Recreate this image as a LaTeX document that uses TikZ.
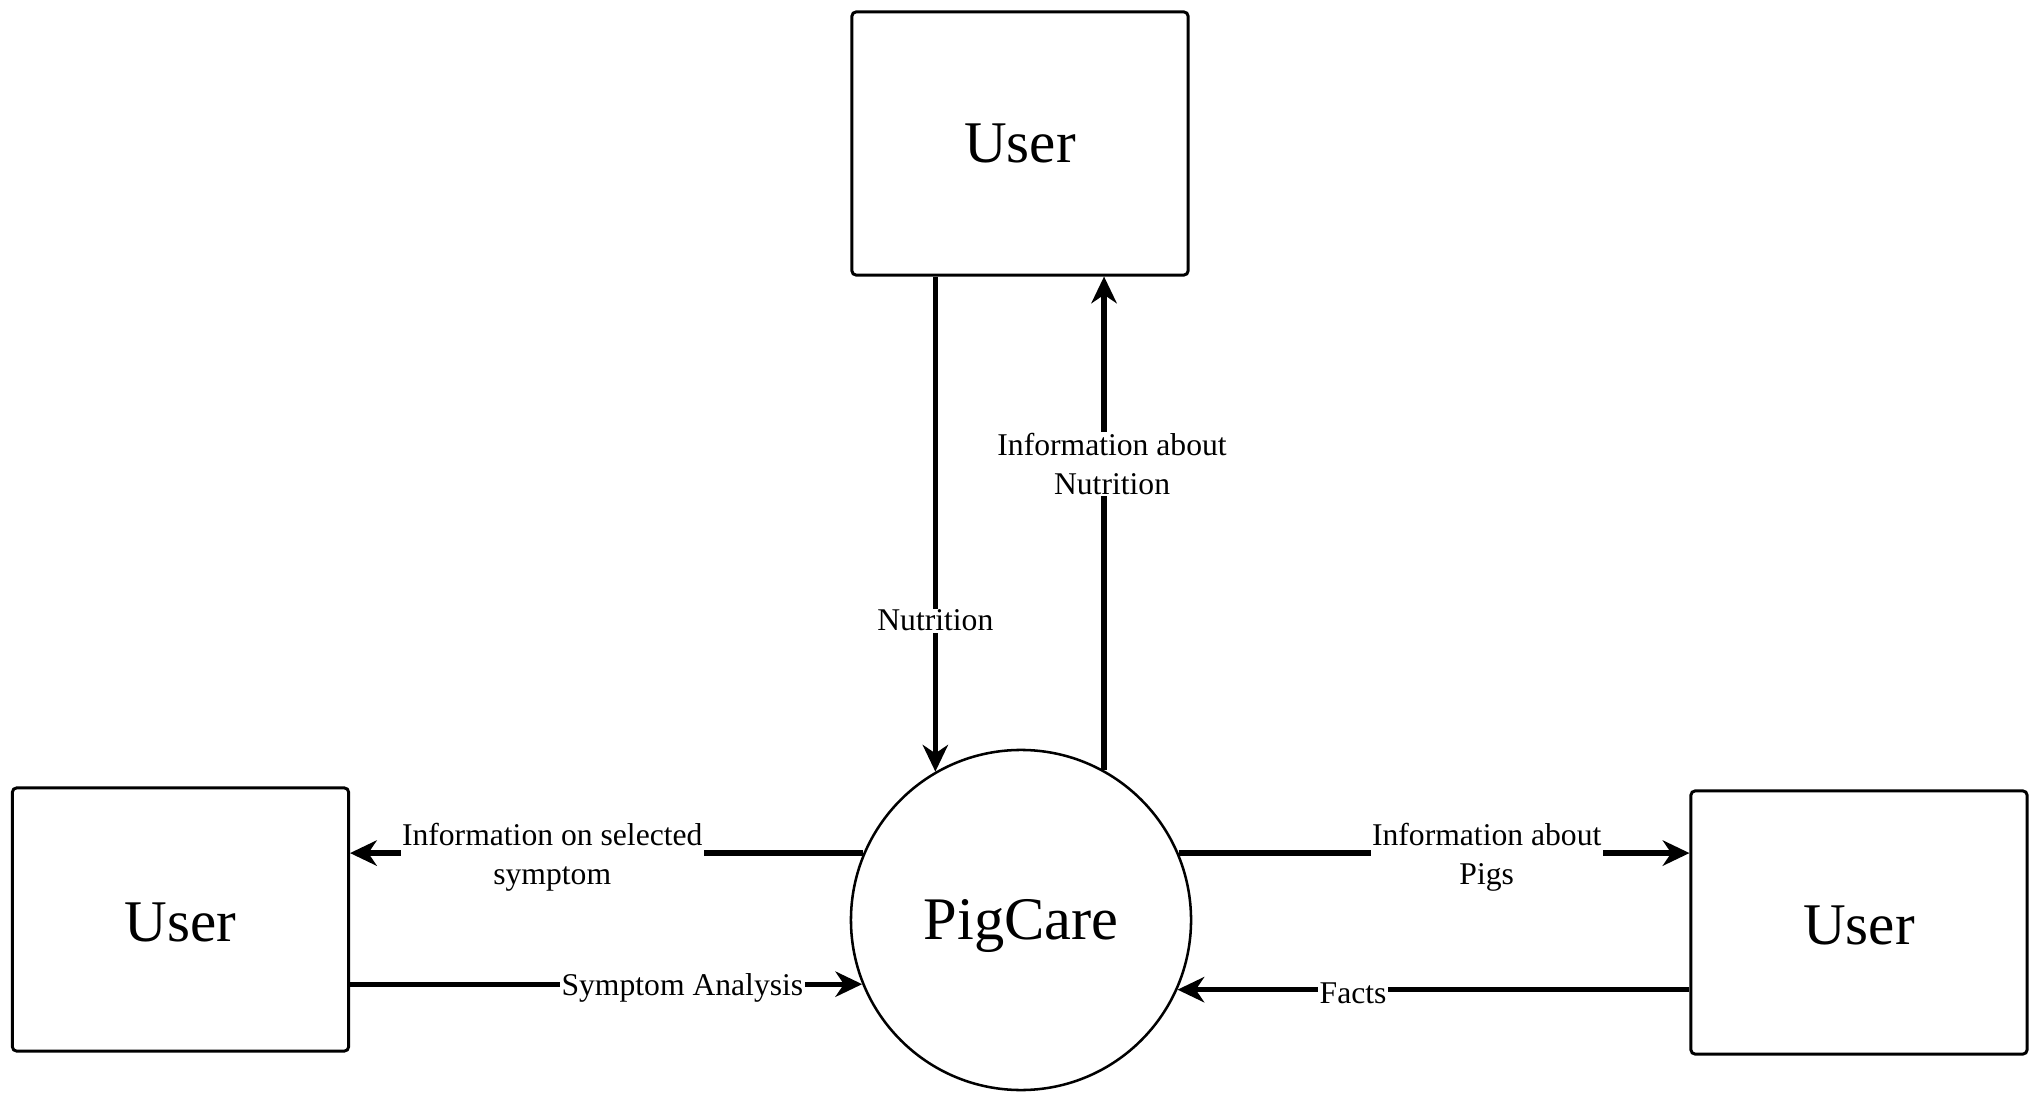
\documentclass[tikz,border=0pt]{standalone}
\usepackage{fontspec}
\setmainfont{Liberation Serif}
\usetikzlibrary{arrows.meta}
\begin{document}
\begin{tikzpicture}[x=0.025cm,y=-0.025cm,
  entity/.style={draw,line width=2.1pt,rounded corners=0.1cm,minimum width=8.4cm,minimum height=6.575cm,inner sep=0pt,font=\fontsize{42}{50}\selectfont},
  proc/.style={draw,circle,line width=1.8pt,minimum size=8.5cm,inner sep=0pt,font=\fontsize{43}{50}\selectfont},
  flow/.style={line width=3.8pt,-{Stealth[length=19pt,width=18pt,inset=6pt]}},
  lbl/.style={fill=white,inner sep=1pt,align=center,font=\fontsize{22.5}{28}\selectfont},
  hlbl/.style={lbl,yshift=-0.1cm}]
\useasboundingbox (0,0) rectangle (2040,1102);
\node[entity] (top) at (1020,143.5) {User};
\node[entity] (left) at (180.5,919.5) {\raisebox{-0.08cm}[\height][\depth]{User}};
\node[entity] (right) at (1859,922.5) {\raisebox{-0.08cm}[\height][\depth]{User}};
\node[proc] (pc) at (1021,920) {\raisebox{-0.16cm}[\height][\depth]{PigCare}};
% Nutrition
\draw[flow] (top.south -| pc.120.5) -- node[lbl,pos=0.695] (l1) {Nutrition} (pc.120.5);
% Information about Nutrition
\draw[flow] (pc.61.3) -- node[lbl,pos=0.62,xshift=0.2cm] (l2) {Information about\\Nutrition} (pc.61.3 |- top.south);
% Information on selected symptom
\draw[flow] (pc.157.5) -- node[hlbl,pos=0.606] (l3) {Information on selected\\symptom} (pc.157.5 -| left.east);
% Symptom Analysis
\draw[flow] (pc.202.8 -| left.east) -- node[hlbl,pos=0.649] (l4) {Symptom Analysis} (pc.202.8);
% Information about Pigs
\draw[flow] (pc.23.8) -- node[hlbl,pos=0.603] (l5) {Information about\\Pigs} (pc.23.8 -| right.west);
% Facts
\draw[flow] (pc.-24.7 -| right.west) -- node[hlbl,pos=0.657] (l6) {Facts} (pc.-24.7);
\end{tikzpicture}
\end{document}
